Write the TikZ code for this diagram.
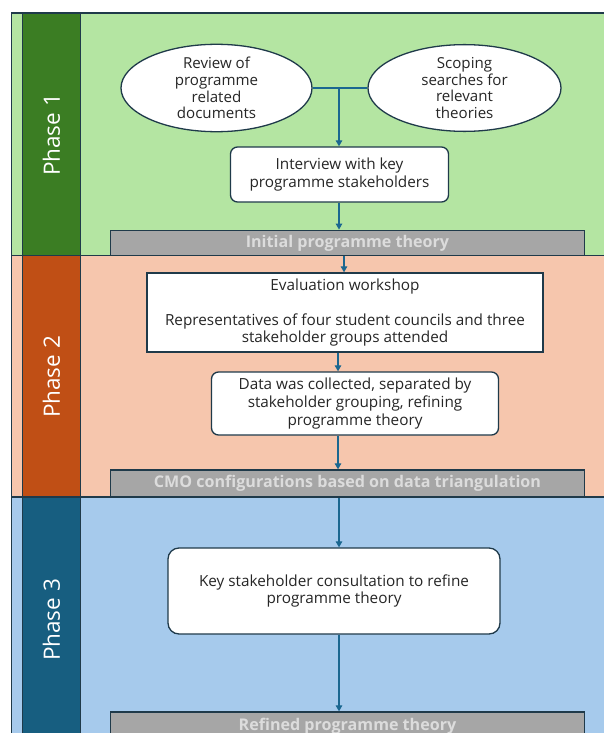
\documentclass[tikz,border=0pt]{standalone}
\usepackage{fontspec}
\setmainfont{Open Sans}
\usetikzlibrary{arrows.meta,shapes.geometric}
\definecolor{gdark}{HTML}{3B7D23}
\definecolor{glight}{HTML}{B4E5A2}
\definecolor{odark}{HTML}{C04F15}
\definecolor{olight}{HTML}{F6C6AD}
\definecolor{bdark}{HTML}{175E80}
\definecolor{blight}{HTML}{A6CAEC}
\definecolor{edge}{HTML}{1F3A4A}
\definecolor{arrblue}{HTML}{1B6790}
\definecolor{bargray}{HTML}{A6A6A6}
\definecolor{bartext}{HTML}{DCDCDC}
\definecolor{txt}{HTML}{262626}
\begin{document}
\begin{tikzpicture}[x=1pt,y=-1pt,
  bodyfont/.style={font=\fontsize{15.3}{17.6}\selectfont, text=txt, align=center},
  ell/.style={ellipse, draw=edge, fill=white, line width=1.3pt, inner sep=0pt, bodyfont, font=\fontsize{15.1}{16.7}\selectfont},
  rbox/.style={rectangle, rounded corners=7pt, draw=edge, fill=white, line width=1.3pt, inner sep=0pt, bodyfont},
  sbox/.style={rectangle, draw=edge, fill=white, line width=1.3pt, inner sep=0pt, bodyfont},
  graybar/.style={rectangle, draw=edge, fill=bargray, line width=1.3pt, inner sep=0pt, minimum width=473.5pt, text=bartext, font=\fontsize{16.1}{18}\selectfont\bfseries},
  phaselbl/.style={rotate=90, text=white, font=\fontsize{22.5}{25}\selectfont},
  arr/.style={draw=arrblue, line width=1.2pt, -{Triangle[length=6pt,width=6.5pt]}},
  band/.style={line width=1.3pt, draw=edge}
]
\useasboundingbox (0,0) rectangle (603,733);
\fill[white] (0,0) rectangle (603,733);
% bands
\filldraw[band, fill=glight] (11.5,13) rectangle (640,255.5);
\filldraw[band, fill=olight] (11.5,255.5) rectangle (640,497);
\filldraw[band, fill=blight] (11.5,497) rectangle (640,780);
\filldraw[band, fill=gdark] (22.5,13) rectangle (80.5,255.5);
\filldraw[band, fill=odark] (22.5,255.5) rectangle (80.5,497);
\filldraw[band, fill=bdark] (22.5,497) rectangle (80.5,780);
\node[phaselbl] (p1) at (51.5,135) {Phase 1};
\node[phaselbl] (p2) at (51.5,377) {Phase 2};
\node[phaselbl] (p3) at (51.5,620) {Phase 3};
% phase 1
\node[ell, minimum width=191pt, minimum height=81pt] (rev) at (216.5,88) {Review of\\programme\\related\\documents};
\node[ell, minimum width=193pt, minimum height=80pt] (scp) at (464.5,88) {Scoping\\searches for\\relevant\\theories};
\node[rbox, minimum width=218pt, minimum height=55pt] (int) at (339.5,174.5) {Interview with key\\programme stakeholders};
\node[graybar, minimum height=25.5pt] (b1) at (347.5,243) {Initial programme theory};
% phase 2
\node[sbox, minimum width=396pt, minimum height=79pt] (eva) at (345,312.5) {Evaluation workshop\\[17.6pt]Representatives of four student councils and three\\stakeholder groups attended};
\node[rbox, minimum width=287pt, minimum height=63pt] (dat) at (355,403.5) {Data was collected, separated by\\stakeholder grouping, refining\\programme theory};
\node[graybar, minimum height=27pt] (b2) at (347.5,483.5) {CMO configurations based on data triangulation};
% phase 3
\node[rbox, rounded corners=11pt, minimum width=332pt, minimum height=86pt] (key) at (334,591) {Key stakeholder consultation to refine\\programme theory};
\node[graybar, minimum height=28pt] (b3) at (347.5,726) {Refined programme theory};
% connectors
\coordinate (j) at (339,88);
\draw[draw=arrblue, line width=1.2pt] (rev.east) -- (scp.west);
\draw[arr] (j) -- (j |- int.north);
\draw[arr] (j |- int.south) -- (j |- b1.north);
\coordinate (j2) at (344,0);
\draw[arr] (j2 |- b1.south) -- (j2 |- eva.north);
\coordinate (j3) at (338,0);
\draw[arr] (j3 |- eva.south) -- (j3 |- dat.north);
\draw[arr] (j3 |- dat.south) -- (j3 |- b2.north);
\draw[arr] (j |- b2.south) -- (j |- key.north);
\draw[arr] (j |- key.south) -- (j |- b3.north);
\end{tikzpicture}
\end{document}
